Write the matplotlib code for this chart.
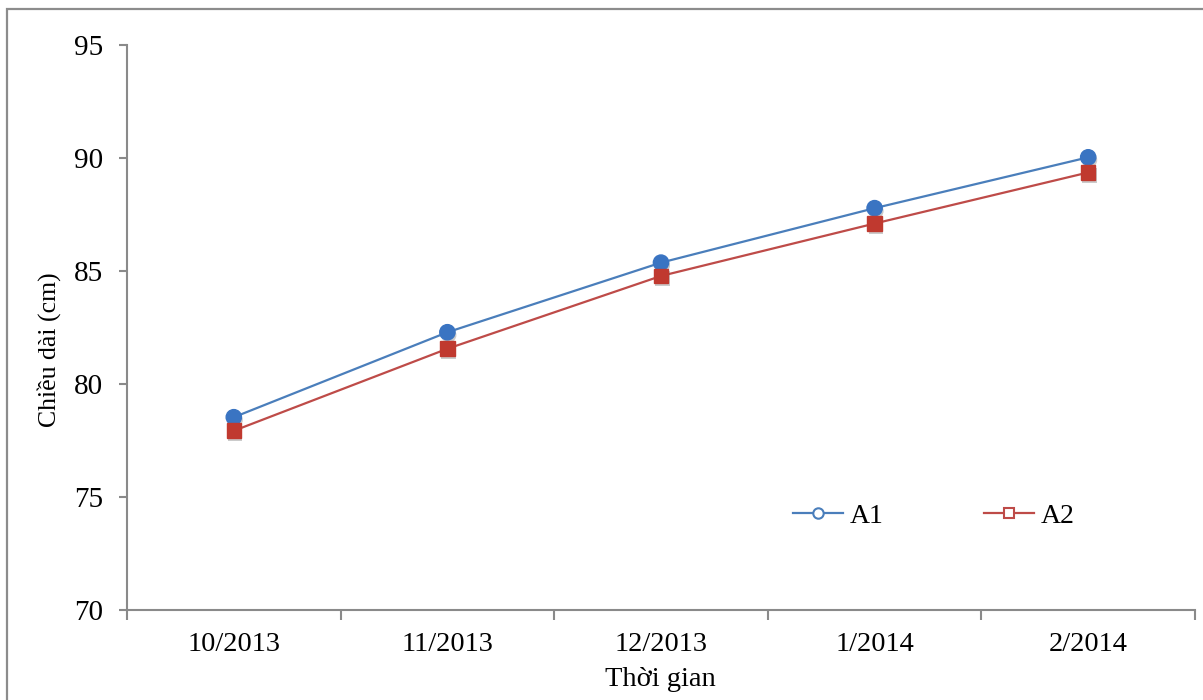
import matplotlib

matplotlib.use("Agg")
import matplotlib.pyplot as plt
import matplotlib.patheffects as pe
from matplotlib.lines import Line2D
from matplotlib.patches import Rectangle

# Monthly length measurements for the two groups
months = ["10/2013", "11/2013", "12/2013", "1/2014", "2/2014"]
a1 = [78.53, 82.29, 85.37, 87.78, 90.03]
a2 = [77.93, 81.56, 84.78, 87.10, 89.36]
y_ticks = [70, 75, 80, 85, 90, 95]

BLUE_LINE, BLUE_MARK = "#4a7ebb", "#3a74c2"
RED_LINE, RED_MARK = "#be4b48", "#c0392f"
AXIS_GREY = "#8a8a8a"

plt.rcParams["font.family"] = ["Liberation Serif", "DejaVu Serif"]

W, H = 1203, 700
fig = plt.figure(figsize=(W / 100, H / 100), dpi=100)

# outer frame, clipped by the right and bottom edges of the canvas
fig.patches.append(
    Rectangle((7 / W, -0.1), 1.2, 1 - 9 / H + 0.1, transform=fig.transFigure,
              fill=False, edgecolor="#8c8c8c", linewidth=1.6)
)

ax = fig.add_axes([127 / W, 90 / H, (1195 - 127) / W, 565 / H])
x = list(range(len(months)))

shadow = [pe.SimplePatchShadow(offset=(1.0, -2.0), shadow_rgbFace="#555555",
                               alpha=0.3), pe.Normal()]

ax.plot(x, a1, color=BLUE_LINE, linewidth=1.6, zorder=2)
ax.plot(x, a2, color=RED_LINE, linewidth=1.6, zorder=2)
ax.plot(x, a1, linestyle="", marker="o", markersize=11, color=BLUE_MARK,
        markeredgecolor=BLUE_MARK, zorder=3, path_effects=shadow)
ax.plot(x, a2, linestyle="", marker="s", markersize=10.5, color=RED_MARK,
        markeredgecolor=RED_MARK, zorder=3, path_effects=shadow)

ax.set_xlim(-0.5, len(months) - 0.5)
ax.set_ylim(70, 95)
ax.set_yticks(y_ticks)
ax.set_xticks(x)
ax.set_xticklabels(months)
ax.set_xticks([i - 0.5 for i in range(len(months) + 1)], minor=True)

for side in ("top", "right"):
    ax.spines[side].set_visible(False)
for side in ("left", "bottom"):
    ax.spines[side].set_color(AXIS_GREY)
    ax.spines[side].set_linewidth(1.5)

ax.tick_params(axis="y", which="major", direction="out", length=6, width=1.5,
               color=AXIS_GREY, labelsize=21, pad=11)
ax.tick_params(axis="x", which="major", length=0, labelsize=20.5, pad=16)
ax.tick_params(axis="x", which="minor", direction="out", length=7, width=1.5,
               color=AXIS_GREY)

ax.set_xlabel("Thời gian", fontsize=20.5)
ax.set_ylabel("Chiều dài (cm)", fontsize=18.5)
ax.xaxis.set_label_coords(0.499, -0.101)
ax.yaxis.set_label_coords(-0.062, 0.46)

handles = [
    Line2D([], [], color=BLUE_LINE, linewidth=1.6, marker="o", markersize=7.5,
           markerfacecolor="white", markeredgecolor=BLUE_LINE,
           markeredgewidth=1.5, label="A1"),
    Line2D([], [], color=RED_LINE, linewidth=1.6, marker="s", markersize=7.5,
           markerfacecolor="white", markeredgecolor=RED_LINE,
           markeredgewidth=1.5, label="A2"),
]
ax.legend(handles=handles, loc="center left", bbox_to_anchor=(0.6236, 0.166),
          ncol=2, frameon=False, fontsize=20, handlelength=1.8,
          handletextpad=0.25, columnspacing=3.6, borderpad=0, borderaxespad=0)

fig.savefig("out.png", dpi=100)
